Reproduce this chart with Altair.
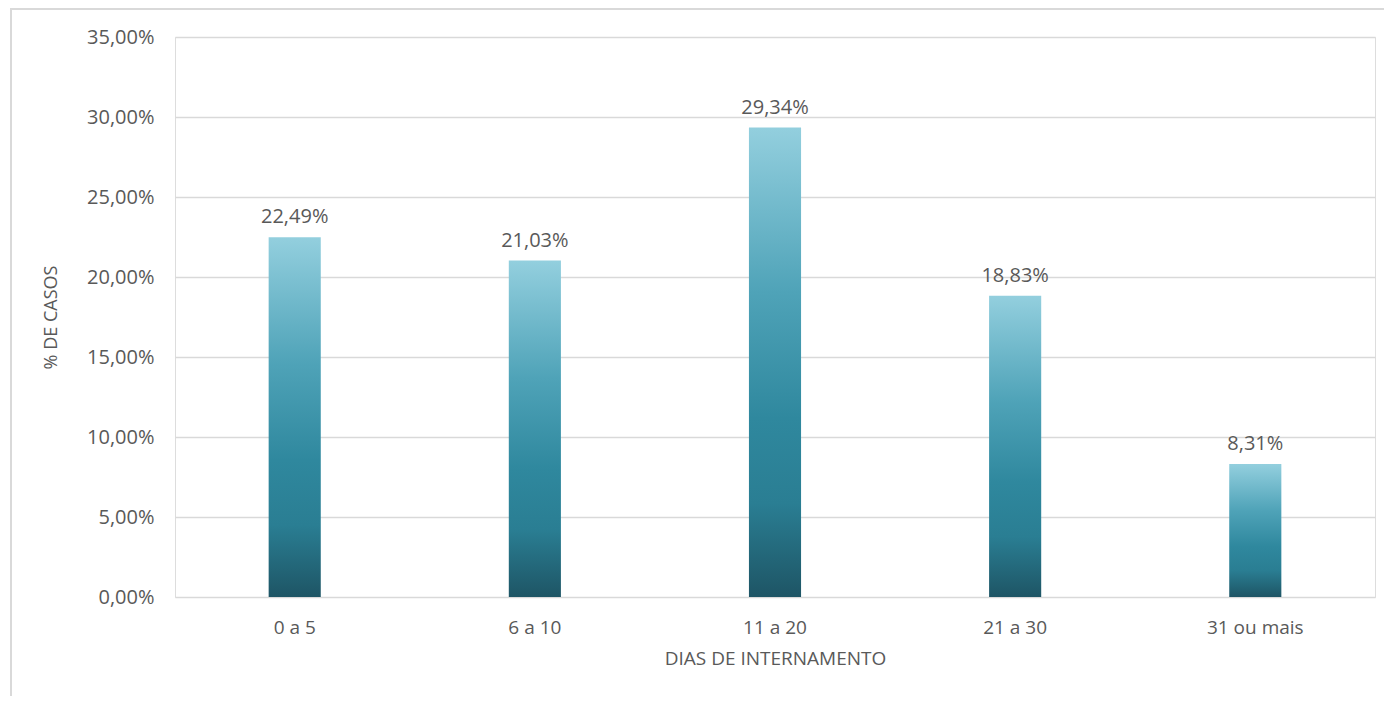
import altair as alt
import pandas as pd

categories = ["0 a 5", "6 a 10", "11 a 20", "21 a 30", "31 ou mais"]
values = [22.49, 21.03, 29.34, 18.83, 8.31]
y_ticks = [0, 5, 10, 15, 20, 25, 30, 35]

df = pd.DataFrame({"cat": categories, "v": values})

FONT = "Open Sans"
GREY = "#595959"

grad = alt.Gradient(
    gradient="linear",
    x1=0, x2=0, y1=0, y2=1,
    stops=[
        alt.GradientStop(color="#93cfde", offset=0),
        alt.GradientStop(color="#4fa3b8", offset=0.35),
        alt.GradientStop(color="#2f889e", offset=0.62),
        alt.GradientStop(color="#2a7e93", offset=0.8),
        alt.GradientStop(color="#1e5565", offset=1),
    ],
)

base = alt.Chart(df)

x = alt.X(
    "cat:N",
    sort=categories,
    scale=alt.Scale(paddingInner=0.783, paddingOuter=0.39),
    axis=alt.Axis(
        title="DIAS DE INTERNAMENTO",
        labelAngle=0,
        labelFont=FONT,
        labelFontSize=19,
        labelColor=GREY,
        labelPadding=21,
        titleFont=FONT,
        titleFontSize=19,
        titleFontWeight="normal",
        titleColor=GREY,
        titlePadding=12,
        domain=False,
        ticks=False,
    ),
)

y = alt.Y(
    "v:Q",
    scale=alt.Scale(domain=[0, 35], nice=False),
    axis=alt.Axis(
        title="% DE CASOS",
        values=y_ticks,
        labelExpr="replace(format(datum.value, '.2f'), '.', ',') + '%'",
        labelFont=FONT,
        labelFontSize=20,
        labelColor=GREY,
        labelPadding=21,
        titleFont=FONT,
        titleFontSize=18,
        titleFontWeight="normal",
        titleColor=GREY,
        titleX=-115,
        titleY=280,
        titleAlign="center",
        titleAngle=-90,
        domain=False,
        ticks=False,
        grid=True,
        gridColor="#d9d9d9",
        gridWidth=1.5,
    ),
)

bars = base.mark_bar(color=grad).encode(x=x, y=y)

labels = base.transform_calculate(
    lbl="replace(format(datum.v, '.2f'), '.', ',') + '%'"
).mark_text(
    baseline="bottom", dy=-10, font=FONT, fontSize=20, color=GREY
).encode(x=alt.X("cat:N", sort=categories), y="v:Q", text="lbl:N")

frame = alt.Chart(df).mark_rect(
    fill=None, stroke="#d9d9d9", strokeWidth=2
).encode(
    x=alt.value(-164), x2=alt.value(1230), y=alt.value(-28), y2=alt.value(667)
)

chart = alt.layer(frame, bars, labels).properties(
    width=1200,
    height=560,
    autosize=alt.AutoSizeParams(type="none"),
    padding={"left": 167, "top": 29, "right": 9, "bottom": 99},
).configure_view(stroke=None).configure(background="white")

chart.save("out.html", embed_options={"renderer": "svg", "actions": False})
